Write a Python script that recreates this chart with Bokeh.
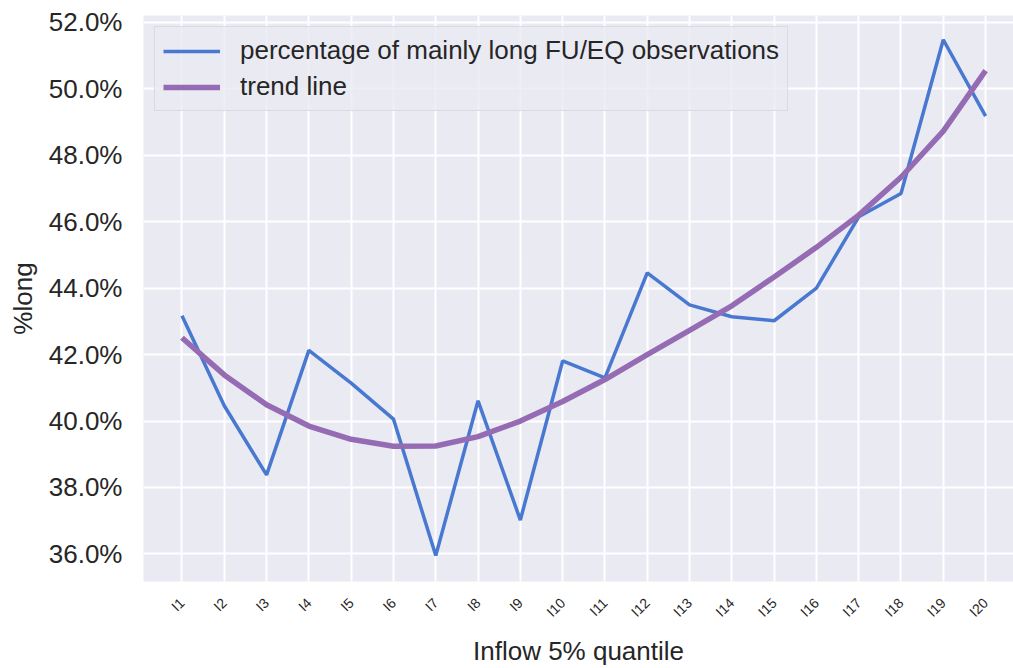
import math
from bokeh.plotting import figure
from bokeh.models import (ColumnDataSource, FixedTicker, PrintfTickFormatter, Range1d,
                          Legend, LegendItem)
from bokeh.embed import file_html
from bokeh.resources import INLINE

categories = [f"I{i}" for i in range(1, 21)]
x_pos = list(range(1, 21))
pct_long = [43.17, 40.46, 38.38, 42.13, 41.14, 40.06, 35.95, 40.61, 37.02, 41.81,
            41.30, 44.46, 43.50, 43.14, 43.02, 44.00, 46.15, 46.85, 51.48, 49.18]
trend = [42.51, 41.39, 40.49, 39.85, 39.45, 39.24, 39.25, 39.53, 40.00, 40.59,
         41.25, 42.00, 42.73, 43.47, 44.34, 45.23, 46.20, 47.34, 48.73, 50.55]
y_ticks = [36, 38, 40, 42, 44, 46, 48, 50, 52]

FONT = "Liberation Sans"
TXT = "#262626"

src = ColumnDataSource(dict(x=x_pos, cat=categories, pct=pct_long, trend=trend))

p = figure(width=1013, height=668, output_backend="svg", toolbar_location=None,
           x_range=Range1d(0.09, 20.66), y_range=Range1d(35.17, 52.21),
           min_border_left=143, min_border_top=15, min_border_right=0, min_border_bottom=81)

p.background_fill_color = "#eaeaf2"
p.border_fill_color = "white"
p.outline_line_color = None

p.xgrid.grid_line_color = "white"
p.ygrid.grid_line_color = "white"
p.xgrid.grid_line_width = 2
p.ygrid.grid_line_width = 2

r1 = p.line("x", "pct", source=src, line_color="#4878d0", line_width=3.5)
r2 = p.line("x", "trend", source=src, line_color="#956cb4", line_width=5.5)

p.xaxis.ticker = FixedTicker(ticks=x_pos)
p.xaxis.major_label_overrides = {i: c for i, c in zip(x_pos, categories)}
p.xaxis.major_label_orientation = math.pi / 4
p.xaxis.major_label_text_font_size = "14px"
p.xaxis.major_label_standoff = 19
p.xaxis.axis_label = "Inflow 5% quantile"
p.xaxis.axis_label_text_font_size = "26px"
p.xaxis.axis_label_text_font_style = "normal"
p.xaxis.axis_label_standoff = 7

p.yaxis.ticker = FixedTicker(ticks=y_ticks)
p.yaxis.formatter = PrintfTickFormatter(format="%.1f%%")
p.yaxis.major_label_text_font_size = "26px"
p.yaxis.major_label_standoff = 21
p.yaxis.axis_label = "%long"
p.yaxis.axis_label_text_font_size = "26px"
p.yaxis.axis_label_text_font_style = "normal"
p.yaxis.axis_label_standoff = 8

for ax in (p.xaxis[0], p.yaxis[0]):
    ax.axis_line_color = None
    ax.major_tick_line_color = None
    ax.minor_tick_line_color = None
    ax.major_tick_out = 0
    ax.major_tick_in = 0
    ax.minor_tick_out = 0
    ax.major_label_text_font = FONT
    ax.axis_label_text_font = FONT
    ax.major_label_text_color = TXT
    ax.axis_label_text_color = TXT

legend = Legend(items=[LegendItem(label="percentage of mainly long FU/EQ observations", renderers=[r1]),
                       LegendItem(label="trend line", renderers=[r2])],
                location="top_left")
legend.label_text_font = FONT
legend.label_text_font_size = "26px"
legend.label_text_color = TXT
legend.background_fill_color = "#eaeaf2"
legend.background_fill_alpha = 0.8
legend.border_line_color = "#cccccc"
legend.border_line_width = 1.5
legend.glyph_width = 57
legend.glyph_height = 28
legend.label_height = 28
legend.spacing = 5
legend.padding = 8
legend.margin = 11
legend.label_standoff = 20
p.add_layout(legend)

open("out.html", "w").write(file_html(p, INLINE))
